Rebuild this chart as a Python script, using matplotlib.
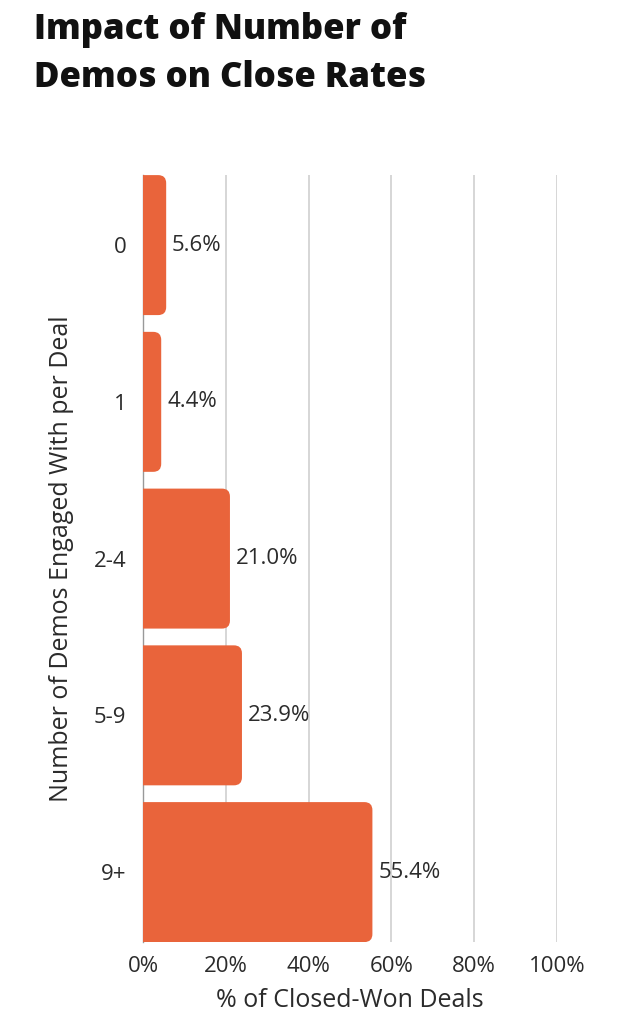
import matplotlib
matplotlib.use("Agg")
import matplotlib.pyplot as plt
from matplotlib.patches import FancyBboxPatch

# Data
categories = ["0", "1", "2-4", "5-9", "9+"]
values = [5.6, 4.4, 21.0, 23.9, 55.4]
x_ticks = [0, 20, 40, 60, 80, 100]
x_tick_labels = ["0%", "20%", "40%", "60%", "80%", "100%"]

BAR_COLOR = "#E9643B"
TEXT_COLOR = "#2b2b2b"
GRID_COLOR = "#cfcfcf"

plt.rcParams["font.family"] = ["Open Sans", "DejaVu Sans"]

fig = plt.figure(figsize=(6.19, 10.24), dpi=100)
ax_box = [0.231, 0.080, 0.669, 0.749]
ax = fig.add_axes(ax_box)

n = len(categories)
bar_h = 0.893
ax.set_xlim(0, 100)
ax.set_ylim(n - 1 + bar_h / 2, -bar_h / 2)

# convert a pixel radius into data units for both axes
px_per_x = fig.get_figwidth() * fig.dpi * ax_box[2] / 100.0
px_per_y = fig.get_figheight() * fig.dpi * ax_box[3] / (n - 1 + bar_h)
radius_px = 8
rx = radius_px / px_per_x
ry = radius_px / px_per_y

for i, v in enumerate(values):
    start = -3.0
    box = FancyBboxPatch((start, i - bar_h / 2), v - start, bar_h,
                         boxstyle=f"round,pad=0,rounding_size={rx}",
                         mutation_aspect=ry / rx,
                         facecolor=BAR_COLOR, edgecolor="none", zorder=3)
    ax.add_patch(box)
    ax.text(v + 1.4, i, f"{v:.1f}%", va="center", ha="left",
            fontsize=16, color=TEXT_COLOR, zorder=4)

ax.set_xticks(x_ticks)
ax.set_xticklabels(x_tick_labels, fontsize=16, color=TEXT_COLOR)
ax.set_yticks(range(n))
ax.set_yticklabels(categories, fontsize=16, color=TEXT_COLOR)
ax.tick_params(axis="both", length=0)
ax.tick_params(axis="y", pad=12)
ax.tick_params(axis="x", pad=10)

ax.grid(axis="x", color=GRID_COLOR, linewidth=1.2, zorder=0)
ax.set_axisbelow(True)
for side in ["top", "right", "bottom"]:
    ax.spines[side].set_visible(False)
ax.spines["left"].set_color("#999999")
ax.spines["left"].set_linewidth(1.0)

ax.set_xlabel("% of Closed-Won Deals", fontsize=18, color=TEXT_COLOR, labelpad=8)
ax.set_ylabel("Number of Demos Engaged With per Deal", fontsize=18,
              color=TEXT_COLOR, labelpad=14)

fig.text(0.055, 0.988, "Impact of Number of\nDemos on Close Rates",
         ha="left", va="top", fontsize=25, fontweight=800,
         color="#111111", linespacing=1.45)

fig.savefig("out.png", dpi=100)
